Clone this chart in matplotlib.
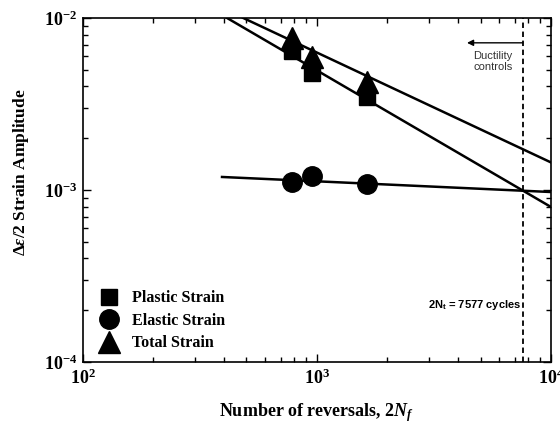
import numpy as np
import matplotlib
matplotlib.use('Agg')
import matplotlib.pyplot as plt

plt.rcParams['font.family'] = 'Liberation Serif'
plt.rcParams['font.weight'] = 'bold'
plt.rcParams['axes.labelweight'] = 'bold'
plt.rcParams['axes.unicode_minus'] = False
plt.rcParams['mathtext.fontset'] = 'custom'
plt.rcParams['mathtext.rm'] = 'Liberation Serif:bold'
plt.rcParams['mathtext.it'] = 'Liberation Serif:italic:bold'
plt.rcParams['mathtext.bf'] = 'Liberation Serif:bold'
plt.rcParams['mathtext.sf'] = 'Liberation Sans:bold'

# test data: reversals to failure and strain amplitudes
reversals = [782, 952, 1636]
plastic = [0.00643, 0.00479, 0.00347]
elastic = [0.00111, 0.00120, 0.00108]
total = [0.00765, 0.00593, 0.00425]

# fitted power-law lines (end points on log-log axes)
fit_el_n = [393, 10000]
fit_el_e = [0.00119, 0.000973]
fit_pl_n = [412, 10000]
fit_pl_e = [0.0100, 0.000796]
fit_tot_n = [483, 10000]
fit_tot_e = [0.0100, 0.001445]

transition = 7577

fig = plt.figure(figsize=(5.6, 4.25), dpi=100)
ax = fig.add_axes([0.148, 0.148, 0.836, 0.810])
ax.set_xscale('log')
ax.set_yscale('log')
ax.set_xlim(1e2, 1e4)
ax.set_ylim(1e-4, 1e-2)

ax.plot(fit_el_n, fit_el_e, color='black', lw=1.8)
ax.plot(fit_pl_n, fit_pl_e, color='black', lw=1.8)
ax.plot(fit_tot_n, fit_tot_e, color='black', lw=1.8)

ax.plot(reversals, plastic, 's', color='black', ms=12, label='Plastic Strain')
ax.plot(reversals, elastic, 'o', color='black', ms=14, label='Elastic Strain')
ax.plot(reversals, total, '^', color='black', ms=15.5, label='Total Strain')

ax.axvline(transition, color='black', ls=(0, (3, 2)), lw=1.3)
ax.text(transition * 0.985, 2.14e-4, r'2N$_{\mathsf{t}}$ = 7577 cycles', family='Liberation Sans',
        fontsize=8, fontweight='bold', ha='right', va='center')
ax.annotate('', xy=(4375, 7.16e-3), xytext=(transition, 7.16e-3),
            arrowprops=dict(arrowstyle='-|>', color='black', lw=1.0, mutation_scale=9,
                            shrinkA=0, shrinkB=0))
ax.text(5650, 5.55e-3, 'Ductility\ncontrols', family='Liberation Sans', fontsize=8,
        fontweight='normal', color='#333333', ha='center', va='center', linespacing=1.15)

ax.legend(loc='lower left', bbox_to_anchor=(0.005, -0.01), frameon=False, fontsize=11.5,
          handletextpad=0.8, labelspacing=0.4, handlelength=1.2)

ax.tick_params(which='both', direction='in', top=True, right=True, width=1.0)
ax.tick_params(which='major', length=6, labelsize=13)
ax.tick_params(which='minor', length=3.5)
ax.tick_params(axis='x', pad=5)
ax.tick_params(axis='y', pad=4)
for sp in ax.spines.values():
    sp.set_linewidth(1.2)

ax.set_xlabel(r'Number of reversals, $2N_f$', fontsize=13, labelpad=9)
ax.set_ylabel(r'$\Delta\varepsilon/2$ Strain Amplitude', fontsize=12.5, labelpad=14)
ax.yaxis.set_label_coords(-0.11, 0.55)

fig.savefig('out.png', dpi=100)
